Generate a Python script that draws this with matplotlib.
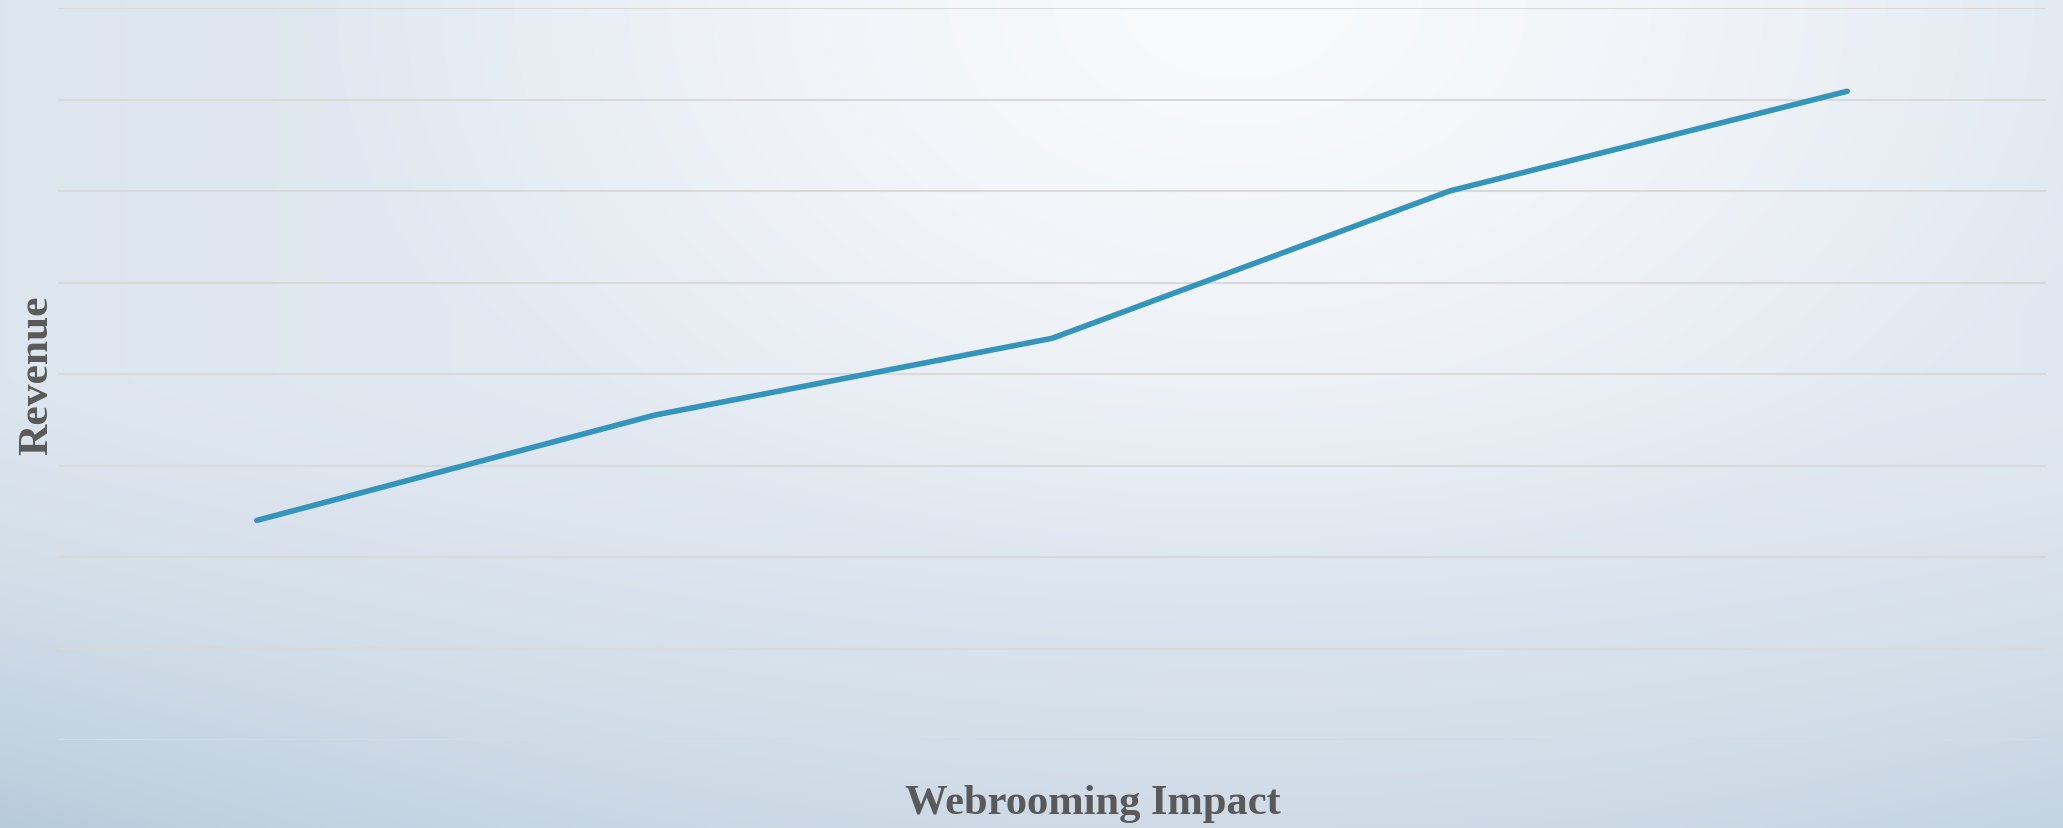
import numpy as np
import matplotlib
matplotlib.use("Agg")
import matplotlib.pyplot as plt

# Data
categories = ["A", "B", "C", "D", "E"]
revenue = [2.40, 3.55, 4.39, 6.00, 7.09]
y_ticks = [0, 1, 2, 3, 4, 5, 6, 7, 8]
x_label = "Webrooming Impact"
y_label = "Revenue"

W, H = 2063, 829
fig = plt.figure(figsize=(W / 100, H / 100), dpi=100)

# Background gradient
bg = fig.add_axes([0, 0, 1, 1], zorder=-10)
yy, xx = np.mgrid[0:1:H * 1j, 0:1:W * 1j]
c0 = np.array([248, 250, 252]) / 255
cm = np.array([228, 234, 242]) / 255
c1 = np.array([184, 203, 219]) / 255
d1 = np.sqrt(((xx - 0.6) / 0.45) ** 2 + (yy / 0.7) ** 2)
s1 = np.clip(d1, 0, 1) ** 1.5
hx = np.clip(((xx - 0.6) / 0.6) ** 2, 0, 1)
tv = np.clip((yy - 0.45) / 0.55, 0, 1) ** 1.5
t2 = np.clip(0.16 * hx + 0.5 * tv + 0.34 * hx * tv, 0, 1)
base = c0[None, None, :] * (1 - s1[..., None]) + cm[None, None, :] * s1[..., None]
img = base * (1 - t2[..., None]) + c1[None, None, :] * t2[..., None]
bg.imshow(img, aspect="auto", extent=[0, 1, 0, 1], origin="upper")
bg.set_axis_off()

ax = fig.add_axes([58 / W, 1 - 741 / H, (2046 - 58) / W, (741 - 9) / H])
ax.set_facecolor("none")
x = np.arange(len(categories))
ax.plot(x, revenue, color="#3394bc", lw=4, solid_capstyle="round", zorder=3)
ax.set_xlim(-0.5, len(categories) - 0.5)
ax.set_ylim(y_ticks[0], y_ticks[-1])
ax.set_yticks(y_ticks)
ax.set_xticks([])
ax.tick_params(axis="y", length=0, labelleft=False)
ax.grid(axis="y", color="#d9d9d9", lw=1.5)
for s in ax.spines.values():
    s.set_visible(False)

fig.text(1093 / W, 1 - 804 / H, x_label, ha="center", va="center",
         fontsize=30.6, fontweight="bold", family="Liberation Serif", color="#595959")
fig.text(37 / W, 1 - 375 / H, y_label, ha="center", va="center", rotation=90,
         fontsize=31.3, fontweight="bold", family="Liberation Serif", color="#595959")

fig.savefig("out.png", dpi=100)
